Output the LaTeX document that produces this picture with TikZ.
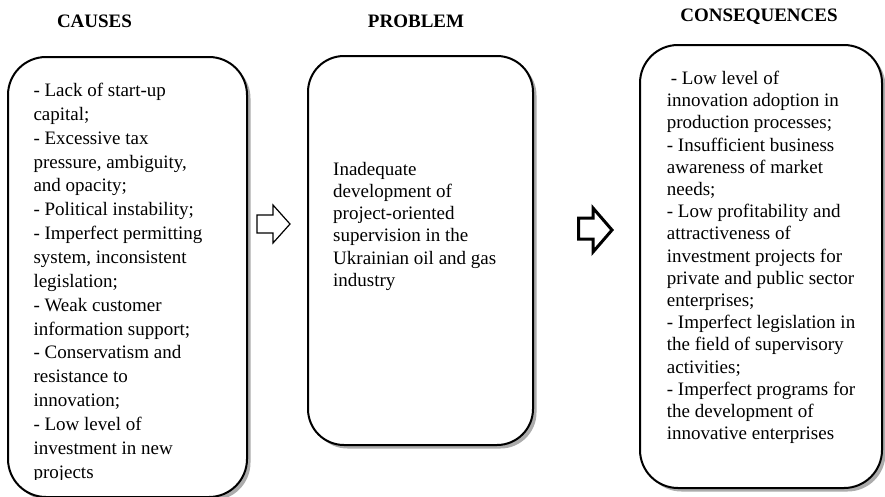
\documentclass[tikz,border=0pt]{standalone}
\usepackage{fontspec}
\setmainfont{Liberation Serif}
\usetikzlibrary{shadows}
\begin{document}
\begin{tikzpicture}[x=1pt,y=-1pt,
  box/.style={draw=black, line width=2pt, fill=white, inner sep=0pt,
    drop shadow={shadow xshift=3.5pt, shadow yshift=-3.5pt, fill=gray!65, opacity=1}},
  title/.style={font=\fontsize{19}{22}\selectfont\bfseries, inner sep=0pt},
  txt/.style={inner sep=0pt, anchor=base west},
  blockarrow/.style={draw=black, fill=white, line join=miter}
]
\useasboundingbox (0,0) rectangle (885,496);
\fill[white] (0,0) rectangle (885,496);

% titles
\node[title] (tcauses) at (94.5,21.7) {CAUSES};
\node[title] (tproblem) at (416,21.5) {PROBLEM};
\node[title] (tcons) at (759,16.5) {CONSEQUENCES};

% boxes
\node[box, rounded corners=38pt, minimum width=239pt, minimum height=440pt] (causes) at (127.5,277) {};
\node[box, rounded corners=36pt, minimum width=225pt, minimum height=389pt] (problem) at (420.5,250.5) {};
\node[box, rounded corners=38pt, minimum width=242pt, minimum height=443pt] (cons) at (761,266.5) {};

% causes text (clipped at the bottom as in the reference)
\begin{scope}
\clip (0,0) rectangle (885,479.5);
\node[txt] (ctext) at (33.3,96.5) {\parbox[t]{300pt}{\raggedright\fontsize{19}{23.85}\selectfont
- Lack of start-up\\
capital;\\
- Excessive tax\\
pressure, ambiguity,\\
and opacity;\\
- Political instability;\\
- Imperfect permitting\\
system, inconsistent\\
legislation;\\
- Weak customer\\
information support;\\
- Conservatism and\\
resistance to\\
innovation;\\
- Low level of\\
investment in new\\
projects}};
\end{scope}

% problem text
\node[txt] (ptext) at (333,175) {\parbox[t]{300pt}{\raggedright\fontsize{19}{22.3}\selectfont
Inadequate\\
development of\\
project-oriented\\
supervision in the\\
Ukrainian oil and gas\\
industry}};

% consequences text
\node[txt] (ctext2) at (666.7,84.5) {\parbox[t]{300pt}{\raggedright\fontsize{19}{22.2}\selectfont
\hspace*{4pt}- Low level of\\
innovation adoption in\\
production processes;\\
- Insufficient business\\
awareness of market\\
needs;\\
- Low profitability and\\
attractiveness of\\
investment projects for\\
private and public sector\\
enterprises;\\
- Imperfect legislation in\\
the field of supervisory\\
activities;\\
- Imperfect programs for\\
the development of\\
innovative enterprises}};

% block arrows
\draw[blockarrow, line width=1.2pt] (257,215) -- (273,215) -- (273,205) -- (290,224) -- (273,243) -- (273,233) -- (257,233) -- cycle;
\draw[blockarrow, line width=3pt] (578.5,218) -- (593,218) -- (593,208) -- (612,230) -- (593,252) -- (593,239) -- (578.5,239) -- cycle;
\end{tikzpicture}
\end{document}
